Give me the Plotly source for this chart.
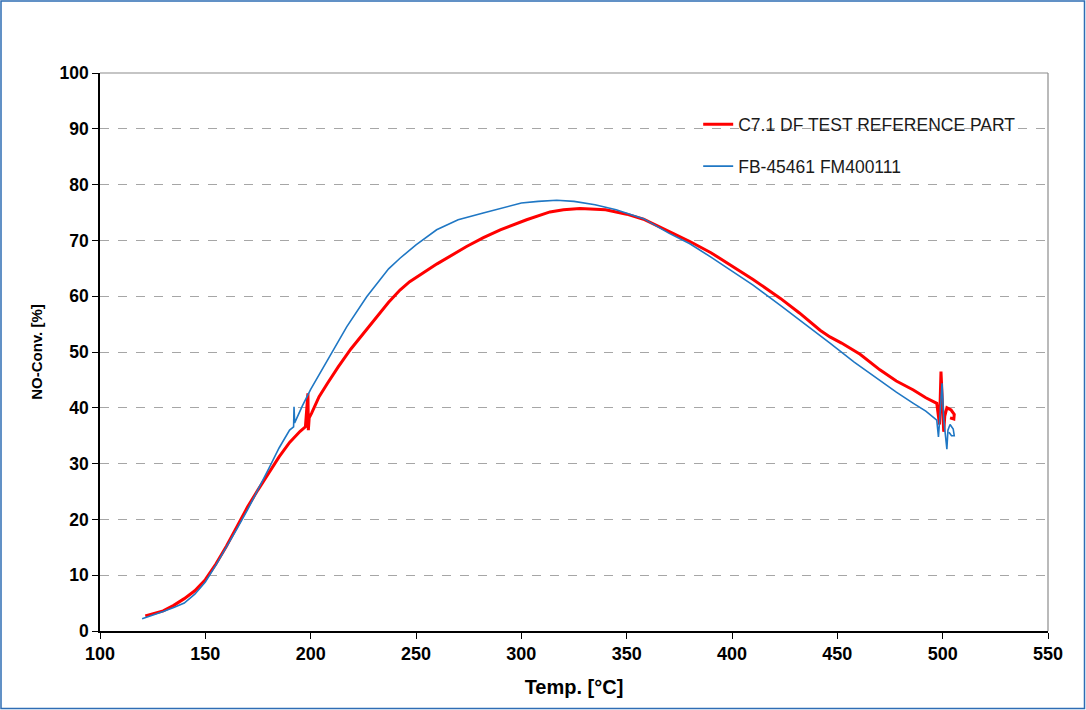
import plotly.graph_objects as go

# Red series: C7.1 DF TEST REFERENCE PART
red_x = [121.5, 125, 130, 135, 140, 145, 150, 155, 160, 165, 170, 175, 180, 185, 190, 195, 197.5, 198.7, 198.9, 199.3, 200.4,
         204, 208, 213, 219, 226.6, 232, 237, 242.4, 247, 253.5, 260, 274, 282, 290, 297.8, 302.5, 313.6, 320, 327.8, 340, 350, 358,
         370, 380, 390, 400.6, 410, 423, 432, 441.8, 446.5, 452, 460.8, 470.2, 478, 486.1, 492, 497.2, 498.5, 499.2, 500, 500.5, 501,
         502, 504, 505.5, 505.3, 503.5]
red_y = [2.7, 3.1, 3.6, 4.6, 5.8, 7.2, 9.2, 12, 15.2, 18.7, 22.2, 25.3, 28.3, 31.2, 33.8, 35.8, 36.6, 42.6, 36.0, 38.2, 39.0,
         42.0, 44.4, 47.3, 50.5, 54.0, 56.6, 58.9, 61.1, 62.6, 64.2, 65.8, 68.9, 70.5, 71.9, 73.1, 73.7, 75.1, 75.5, 75.7, 75.5, 74.7, 73.8,
         71.6, 69.8, 67.8, 65.3, 63.0, 59.6, 57.0, 53.9, 52.7, 51.6, 49.6, 46.8, 44.8, 43.2, 41.8, 40.8, 37.0, 46.5, 40.0, 35.7, 38.5,
         40.0, 39.6, 38.8, 38.0, 38.2]

# Blue series: FB-45461 FM400111
blue_x = [120, 125, 130, 135, 140, 145, 150, 155, 160, 165, 170, 175, 180, 185, 190, 191.9, 192.1, 192.4, 196, 200,
          204.4, 210, 217.1, 226.6, 233, 237, 242.4, 250, 259.8, 270, 281.9, 290, 300, 308, 316.8, 325, 335, 345, 358,
          370, 380, 390, 400.6, 410, 422.8, 432, 446.5, 458, 470.2, 478, 486.1, 492, 497.2, 498, 498.6, 499.7, 500.5, 502,
          502.5, 503.5, 505, 505.5, 504.2, 503]
blue_y = [2.2, 2.8, 3.5, 4.2, 5.0, 6.6, 8.8, 11.8, 15.0, 18.3, 21.7, 25.3, 29.0, 32.8, 36.0, 36.6, 40.2, 37.3, 40.3, 43.3,
          46.2, 50.0, 54.5, 59.9, 63.1, 64.9, 66.8, 69.2, 71.9, 73.7, 74.9, 75.7, 76.7, 77.0, 77.2, 77.0, 76.4, 75.5, 73.9,
          71.3, 69.4, 67.0, 64.4, 62.0, 58.4, 55.8, 51.6, 48.2, 44.9, 42.8, 40.8, 39.4, 37.8, 34.8, 38.0, 44.4, 38.0, 32.6,
          36.0, 37.0, 36.2, 35.0, 35.0, 35.6]

x_ticks = [100, 150, 200, 250, 300, 350, 400, 450, 500, 550]
y_ticks = [0, 10, 20, 30, 40, 50, 60, 70, 80, 90, 100]

FONT = "Arial, Liberation Sans, sans-serif"

fig = go.Figure()
fig.add_trace(go.Scatter(x=red_x, y=red_y, mode="lines", name="C7.1 DF TEST REFERENCE PART",
                         line=dict(color="#FF0000", width=3), legendgroup="a"))
fig.add_trace(go.Scatter(x=blue_x, y=blue_y, mode="lines", name="FB-45461 FM400111",
                         line=dict(color="#1F77C4", width=1.6), legendgroup="b"))

L, R, T, B = 100, 38, 73, 79
W, H = 1086, 710
pw, ph = W - L - R, H - T - B

fig.update_layout(
    width=W, height=H,
    margin=dict(l=L, r=R, t=T, b=B),
    paper_bgcolor="white", plot_bgcolor="white",
    font=dict(family=FONT, color="black"),
    showlegend=True,
    legend=dict(x=0.631, y=0.940, xanchor="left", yanchor="top", bgcolor="rgba(0,0,0,0)",
                font=dict(size=17.5, family=FONT, color="#1a1a1a"), tracegroupgap=16,
                itemwidth=30),
    xaxis=dict(range=[100, 550], tickvals=x_ticks, ticks="outside", ticklen=6, tickcolor="black",
               showline=True, linecolor="black", linewidth=1.5, showgrid=False, zeroline=False,
               tickfont=dict(size=18, family=FONT, color="black", weight="bold"),
               title=dict(text="<b>Temp. [°C]</b>", font=dict(size=20, family=FONT), standoff=17)),
    yaxis=dict(range=[0, 100], tickvals=y_ticks, ticks="outside", ticklen=6, tickcolor="black",
               showline=True, linecolor="black", linewidth=1.5, showgrid=True, gridcolor="#A6A6A6",
               griddash="dash", gridwidth=1, zeroline=False,
               tickfont=dict(size=17.5, family=FONT, color="black", weight="bold"),
               title=dict(text="<b>NO-Conv. [%]</b>", font=dict(size=15, family=FONT), standoff=13)),
)

# gray top/right border of plot area
fig.add_shape(type="line", xref="paper", yref="paper", x0=0, x1=1, y0=1, y1=1,
              line=dict(color="#8C8C8C", width=1.2), layer="below")
fig.add_shape(type="line", xref="paper", yref="paper", x0=1, x1=1, y0=0, y1=1,
              line=dict(color="#8C8C8C", width=1.2), layer="below")

# outer chart border
fig.add_shape(type="rect", xref="paper", yref="paper",
              x0=(1 - L) / pw, x1=(W - 1.5 - L) / pw,
              y0=-(B - 1.5) / ph, y1=(ph + T - 1) / ph,
              line=dict(color="#2E6DB4", width=1.5))

fig.write_html("out.html", config={"displayModeBar": False},
               post_script="document.body.style.margin='0';document.body.style.overflow='hidden';")
